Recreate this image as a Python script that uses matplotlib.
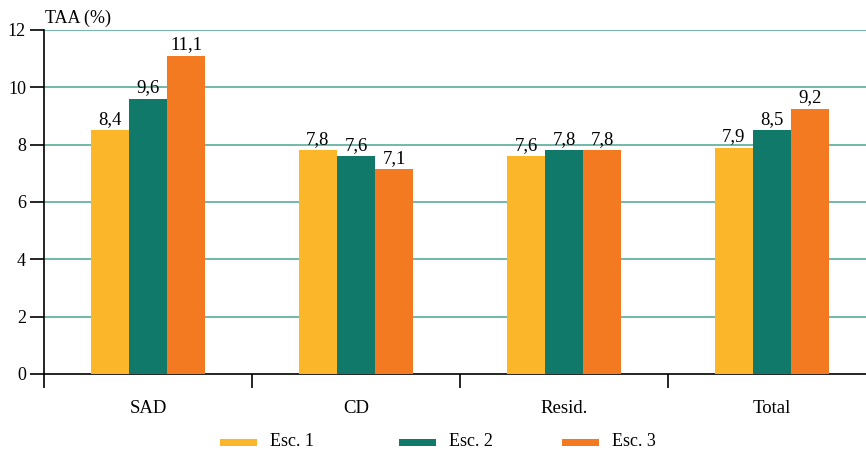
import matplotlib.pyplot as plt
import numpy as np
from matplotlib.patches import Rectangle

plt.rcParams['font.family'] = ['Liberation Serif', 'DejaVu Serif']

categories = ['SAD', 'CD', 'Resid.', 'Total']
series = ['Esc. 1', 'Esc. 2', 'Esc. 3']
esc1 = [8.5, 7.8, 7.6, 7.9]
esc2 = [9.6, 7.6, 7.8, 8.5]
esc3 = [11.1, 7.15, 7.8, 9.25]
labels1 = ['8,4', '7,8', '7,6', '7,9']
labels2 = ['9,6', '7,6', '7,8', '8,5']
labels3 = ['11,1', '7,1', '7,8', '9,2']
colors = ['#FBB62A', '#10796A', '#F47A22']

W, H = 866, 449
fig = plt.figure(figsize=(W / 100, H / 100), dpi=100)
ax = fig.add_axes([44 / W, 75 / H, 832 / W, 344 / H])

x = np.arange(len(categories)) + 0.5
bw = 0.183
for i, (vals, labs) in enumerate(zip([esc1, esc2, esc3], [labels1, labels2, labels3])):
    pos = x + (i - 1) * bw
    ax.bar(pos, vals, width=bw, color=colors[i], zorder=3)
    for p, v, t in zip(pos, vals, labs):
        ax.annotate(t, (p, v), xytext=(0, 4.5), textcoords='offset points',
                    ha='center', va='baseline', fontsize=13.5)

ax.set_xlim(0, 4)
ax.set_ylim(0, 12)
ax.set_yticks(range(0, 13, 2))
ax.tick_params(axis='y', labelsize=13, length=10, width=1.2, direction='out', pad=3)
for y in range(2, 13, 2):
    ax.axhline(y, color='#5aab9b', lw=1.2, zorder=1)

ax.set_xticks([0, 1, 2, 3, 4])
ax.set_xticklabels([])
ax.tick_params(axis='x', which='major', length=10, width=1.2, direction='out')
ax.set_xticks(x, minor=True)
ax.set_xticklabels(categories, minor=True)
ax.tick_params(axis='x', which='minor', length=0, labelsize=13.5, pad=18.5)

for s in ['top', 'right']:
    ax.spines[s].set_visible(False)
ax.spines['left'].set_linewidth(1.2)
ax.spines['bottom'].set_linewidth(1.2)

ax.annotate('TAA (%)', (0, 1), xycoords='axes fraction', xytext=(1, 5),
            textcoords='offset points', ha='left', va='baseline', fontsize=13)

# legend drawn by hand, positions in pixels
leg_x = [220, 399, 562]
for lx, c, name in zip(leg_x, colors, series):
    fig.add_artist(Rectangle((lx / W, (H - 446) / H), 37 / W, 7 / H,
                             transform=fig.transFigure, color=c, lw=0))
    fig.text((lx + 50) / W, (H - 446) / H, name, fontsize=13,
             ha='left', va='baseline')

fig.savefig('out.png', dpi=100)
